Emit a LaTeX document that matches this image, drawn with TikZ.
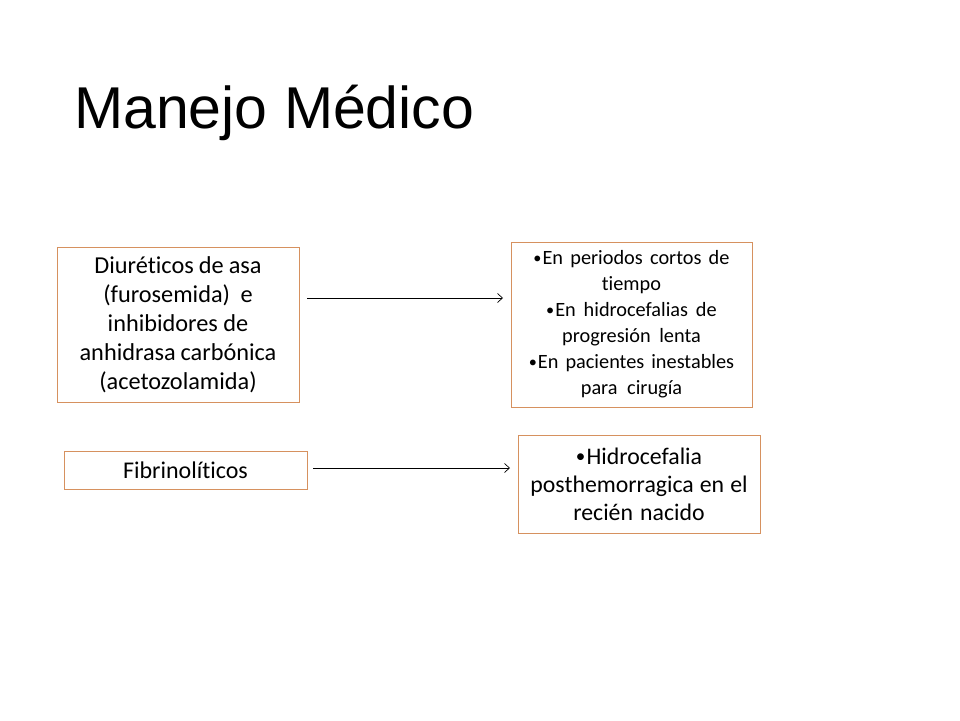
\documentclass[tikz,border=0pt]{standalone}
\usepackage{graphicx}
\usepackage{fontspec}
\setmainfont{Carlito}[Ligatures={NoCommon,NoRare,NoDiscretionary}]
\newfontfamily\titlefont{Liberation Sans}
\usetikzlibrary{arrows.meta}
\definecolor{boxorange}{RGB}{214,145,95}
\newcommand{\bul}{\raisebox{0.08em}{\scalebox{0.8}{•}}\hspace{0.05em}}
\tikzset{
  obox/.style={draw=boxorange, line width=0.9pt, inner sep=0pt, align=center, anchor=center},
  conn/.style={draw=black, line width=0.8pt, -{Straight Barb[length=5pt,width=9pt,line width=0.7pt]}}
}
\begin{document}
\begin{tikzpicture}[x=1pt,y=-1pt]
\useasboundingbox (0,0) rectangle (960,720);
\node[anchor=base west, inner sep=0pt, font=\titlefont\fontsize{59}{70}\selectfont] (title) at (74,128) {Manejo Médico};

\node[obox, text width=242pt, minimum height=155pt, font=\fontsize{24.3}{29}\selectfont, execute at begin node={\spaceskip=0.17em plus 0.05em}] (diur) at (178,324.5)
  {Diuréticos de asa\\(furosemida)\ \ e\\inhibidores de\\anhidrasa carbónica\\(acetozolamida)};
\node[obox, text width=243pt, minimum height=38pt, font=\fontsize{24}{29}\selectfont] (fibr) at (185.5,470)
  {Fibrinolíticos};
\node[obox, text width=241pt, minimum height=165pt, font=\fontsize{20.3}{26}\selectfont, execute at begin node={\spaceskip=0.3em plus 0.1em}] (uses) at (631.5,324.5)
  {\bul En periodos cortos de\\tiempo\\\bul En hidrocefalias de\\progresión lenta\\\bul En pacientes inestables\\para cirugía};
\node[obox, text width=242pt, minimum height=98pt, font=\fontsize{23.8}{28}\selectfont, execute at begin node={\spaceskip=0.24em plus 0.05em}] (hidro) at (639,484)
  {\bul Hidrocefalia\\posthemorragica en el\\recién nacido};

\coordinate (a1s) at (307,298);
\coordinate (a1e) at (503,298);
\coordinate (a2s) at (313,468);
\coordinate (a2e) at (510,468);
\draw[conn] (a1s) -- (a1e);
\draw[conn] (a2s) -- (a2e);
\end{tikzpicture}
\end{document}
